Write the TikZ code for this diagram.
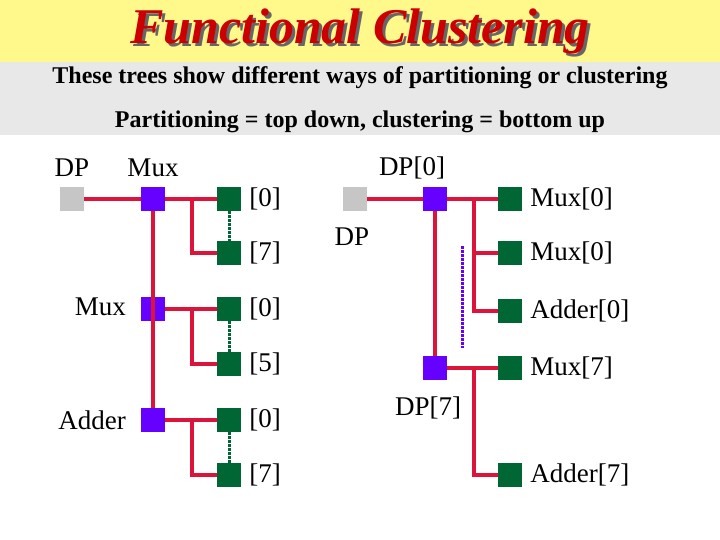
\documentclass[tikz,border=0pt]{standalone}
\usepackage{fontspec}
\setmainfont{Liberation Serif}
\definecolor{crim}{HTML}{DC143C}
\definecolor{vio}{HTML}{6600FF}
\definecolor{dgr}{HTML}{006633}
\definecolor{tred}{HTML}{CC0000}
\begin{document}
\begin{tikzpicture}[x=1pt,y=-1pt,
 sq/.style={minimum size=24pt,inner sep=0pt,draw=none},
 gr/.style={sq,fill=gray!45},
 pu/.style={sq,fill=vio},
 gn/.style={sq,fill=dgr},
 ln/.style={draw=crim,line width=3.5pt},
 lab/.style={font=\fontsize{27}{29}\selectfont,inner sep=0pt},
 dg/.style={densely dotted,line width=3pt,draw=dgr},
 dv/.style={densely dotted,line width=3pt,draw=vio}]
\useasboundingbox (0,0) rectangle (720,540);
\fill[yellow!45] (0,0) rectangle (720,62);
\fill[gray!18] (0,62) rectangle (720,135);
\node[font=\fontsize{50}{54}\bfseries\itshape\selectfont,text=black!60] (ts) at (363,34) {Functional Clustering};
\node[font=\fontsize{50}{54}\bfseries\itshape\selectfont,text=tred] (t) at (360,31) {Functional Clustering};
\node[font=\fontsize{24}{26}\bfseries\selectfont] (s1) at (360,78) {These trees show different ways of partitioning or clustering};
\node[font=\fontsize{24}{26}\bfseries\selectfont] (s2) at (360,122) {Partitioning = top down, clustering = bottom up};
% left tree
\node[gr] (dp) at (72,199) {};
\node[pu] (m1) at (153,199) {};
\node[pu] (m2) at (153,309) {};
\node[pu] (ad) at (153,420) {};
\node[gn] (a0) at (229,199) {}; \node[gn] (a7) at (229,253) {};
\node[gn] (b0) at (229,309) {}; \node[gn] (b5) at (229,364) {};
\node[gn] (c0) at (229,420) {}; \node[gn] (c7) at (229,475) {};
\draw[ln] (dp) -- (m1); \draw[ln] (m1) -- (ad);
\foreach \p/\q/\r in {m1/a0/a7,m2/b0/b5,ad/c0/c7}{
 \draw[ln] (\p) -- (\q);
 \draw[ln] (\p.east -| 192,0) |- (\r);
 \draw[dg] (\q.south) -- (\r.north);}
\node[lab] (ldp) at (72,168) {DP};
\node[lab] (lm1) at (153,168) {Mux};
\node[lab,anchor=east] (lm2) at (126,307) {Mux};
\node[lab,anchor=east] (lad) at (126,420) {Adder};
\foreach \n/\t in {a0/[0],a7/[7],b0/[0],b5/[5],c0/[0],c7/[7]}
 \node[lab,anchor=west] at ([xshift=8pt]\n.east) {\t};
% right tree
\node[gr] (rdp) at (355,199) {};
\node[pu] (d0) at (435,199) {};
\node[pu] (d7) at (435,368) {};
\node[gn] (r1) at (510,199) {}; \node[gn] (r2) at (510,253) {};
\node[gn] (r3) at (510,311) {}; \node[gn] (r4) at (510,368) {};
\node[gn] (r5) at (510,475) {};
\draw[ln] (rdp) -- (d0); \draw[ln] (d0) -- (d7);
\draw[ln] (d0) -- (r1);
\draw[ln] (d0.east -| 474,0) |- (r3); \draw[ln] (474,253) -- (r2);
\draw[ln] (d7) -- (r4);
\draw[ln] (d7.east -| 474,0) |- (r5);
\coordinate (p1) at (462,246); \coordinate (p2) at (462,348);
\draw[dv] (p1) -- (p2);
\node[lab] (ld0) at (412,168) {DP[0]};
\node[lab] (lrdp) at (352,237) {DP};
\node[lab] (ld7) at (428,408) {DP[7]};
\foreach \n/\t in {r1/Mux[0],r2/Mux[0],r3/Adder[0],r4/Mux[7],r5/Adder[7]}
 \node[lab,anchor=west] at ([xshift=8pt]\n.east) {\t};
\end{tikzpicture}
\end{document}
